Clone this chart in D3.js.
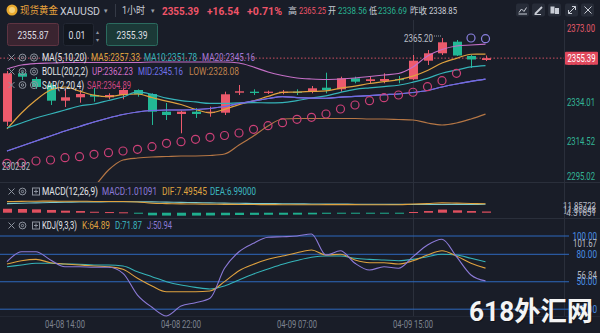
<!DOCTYPE html>
<html><head><meta charset="utf-8">
<script src="https://cdn.jsdelivr.net/npm/d3@7"></script>
<style>
html,body{margin:0;padding:0;background:#191d28;overflow:hidden}
svg{display:block}
text{font-family:Roboto,"Noto Sans","Noto Sans CJK SC",sans-serif}
</style></head><body><svg id="c" width="600" height="333"></svg>
<script>
// ---------- DATA ----------
const times = ["04-08 10:00","04-08 11:00","04-08 12:00","04-08 13:00","04-08 14:00","04-08 15:00","04-08 16:00","04-08 17:00","04-08 18:00","04-08 19:00","04-08 20:00","04-08 21:00","04-08 22:00","04-08 23:00","04-09 00:00","04-09 01:00","04-09 02:00","04-09 03:00","04-09 04:00","04-09 06:00","04-09 07:00","04-09 08:00","04-09 09:00","04-09 10:00","04-09 11:00","04-09 12:00","04-09 13:00","04-09 14:00","04-09 15:00","04-09 16:00","04-09 17:00","04-09 18:00","04-09 19:00","04-09 20:00"];
const open  = [2324.41,2348.00,2345.22,2342.30,2334.65,2336.30,2337.42,2336.30,2337.42,2339.86,2337.91,2329.29,2328.17,2329.29,2328.80,2328.80,2338.55,2339.03,2338.55,2338.40,2339.03,2339.03,2340.98,2340.20,2345.56,2344.25,2344.25,2345.22,2345.08,2354.14,2357.75,2363.40,2356.43,2354.48];
const high  = [2349.12,2348.88,2346.20,2343.27,2340.35,2339.86,2340.84,2338.25,2340.69,2340.20,2338.25,2333.53,2329.77,2331.09,2331.72,2339.03,2342.30,2340.20,2339.52,2339.86,2340.20,2341.81,2348.29,2346.34,2346.34,2346.34,2348.00,2346.68,2356.92,2359.35,2365.20,2364.23,2356.92,2356.67];
const low   = [2322.32,2344.73,2340.35,2332.55,2331.58,2333.67,2334.16,2335.33,2335.33,2336.60,2322.81,2325.24,2318.76,2326.22,2326.85,2327.68,2337.42,2337.42,2337.91,2337.77,2337.42,2338.25,2338.25,2339.03,2343.13,2343.13,2343.13,2343.13,2344.73,2352.04,2356.92,2356.43,2350.58,2353.99];
const close = [2348.00,2346.34,2341.32,2334.65,2336.30,2337.91,2336.60,2337.42,2339.86,2337.77,2329.29,2327.68,2329.29,2328.17,2329.29,2337.77,2339.23,2338.40,2339.03,2339.03,2338.55,2340.69,2339.86,2345.56,2343.91,2345.08,2345.22,2344.73,2354.14,2357.75,2363.11,2356.67,2354.73,2355.39];
const ma5   = [2320.86,2328.65,2334.99,2339.86,2341.32,2339.30,2337.35,2336.58,2337.62,2337.91,2336.19,2334.41,2332.78,2330.44,2328.74,2330.44,2332.75,2334.57,2336.74,2338.69,2338.85,2339.14,2339.43,2340.74,2341.71,2343.02,2343.93,2344.90,2346.62,2349.39,2352.99,2355.28,2357.28,2357.33];
const ma10  = [2321.34,2323.78,2326.22,2328.17,2330.11,2332.06,2333.04,2334.74,2336.45,2338.90,2337.75,2335.88,2334.68,2334.03,2333.33,2333.32,2333.58,2333.68,2333.59,2333.72,2334.64,2335.95,2337.00,2338.74,2340.20,2340.93,2341.53,2342.17,2343.68,2345.55,2348.01,2349.60,2351.09,2351.78];
const ma20  = [2310.13,2312.57,2315.01,2317.44,2319.88,2322.07,2324.27,2326.22,2327.92,2329.14,2329.87,2330.11,2330.11,2330.36,2330.85,2331.82,2333.28,2334.50,2335.72,2336.67,2336.19,2335.91,2335.84,2336.39,2336.77,2337.12,2337.56,2337.92,2338.64,2339.63,2341.33,2342.77,2344.05,2345.16];
const bollMid = [2310.13,2312.57,2315.01,2317.44,2319.88,2322.07,2324.27,2326.22,2327.92,2329.14,2329.87,2330.11,2330.11,2330.36,2330.85,2331.82,2333.28,2334.50,2335.72,2336.67,2336.19,2335.91,2335.84,2336.39,2336.77,2337.12,2337.56,2337.92,2338.64,2339.63,2341.33,2342.77,2344.05,2345.16];
const bollUp  = [2350.10,2352.04,2352.78,2353.02,2353.26,2353.26,2353.26,2353.26,2353.26,2353.26,2353.51,2353.51,2353.51,2353.51,2353.51,2353.51,2353.02,2351.07,2348.63,2346.93,2345.71,2345.22,2344.98,2345.22,2345.71,2346.44,2347.17,2347.90,2351.07,2356.43,2359.60,2361.30,2361.79,2362.23];
const bollLow = [2270.17,2273.10,2277.24,2281.87,2286.50,2290.88,2293.08,2300.88,2305.75,2306.72,2307.21,2307.45,2307.70,2307.70,2307.94,2308.67,2313.06,2317.44,2322.32,2325.73,2325.97,2325.97,2325.97,2325.97,2325.97,2325.73,2325.73,2325.49,2325.24,2323.78,2322.81,2323.78,2325.73,2328.08];
const sar     = [2304.14,2304.30,2305.26,2305.75,2306.87,2307.36,2308.53,2309.31,2310.13,2310.96,2312.23,2313.89,2314.67,2315.84,2316.81,2317.69,2318.91,2320.71,2322.47,2323.93,2325.59,2326.56,2328.17,2330.61,2332.56,2334.65,2336.12,2337.43,2338.75,2341.48,2344.39,2347.99,2365.20,2364.89];
const macdHist = [3.3,3.1,2.8,2.3,1.7,1.4,0.8,0.55,0.35,-0.35,-2.2,-2.4,-2.5,-2.4,-2.3,-2.1,-1.9,-1.8,-1.7,-1.7,-1.6,-1.4,-0.9,-0.8,-0.8,-0.8,-0.7,-0.6,0.6,1.4,2.6,2.0,1.4,1.01];
const dif = [9.25,9.45,9.6,9.65,9.55,9.6,9.4,9.38,9.33,8.97,7.9,7.6,7.35,7.2,7.05,6.95,6.9,6.8,6.75,6.65,6.6,6.6,6.75,6.75,6.7,6.65,6.65,6.65,7.2,7.6,8.2,7.95,7.68,7.495];
const dea = [7.6,7.9,8.2,8.5,8.7,8.9,9.0,9.1,9.15,9.15,9.0,8.8,8.6,8.4,8.2,8.0,7.85,7.7,7.6,7.5,7.4,7.3,7.2,7.15,7.1,7.05,7.0,6.95,6.9,6.9,6.9,6.95,6.98,6.99];
const kdjK = [69.4,73.0,74.5,70.8,69.4,68.3,67.2,66.4,63.6,53.8,45.4,39.1,39.1,39.1,39.9,50.1,62.1,69.1,74.5,78.1,81.7,84.7,79.2,80.0,73.8,70.8,70.8,69.4,73.0,79.2,83.9,78.1,70.2,64.89];
const kdjD = [66.4,68.3,70.2,70.2,69.4,69.1,68.3,68.3,67.2,61.0,55.5,50.1,46.4,43.9,42.1,45.4,51.9,58.5,63.9,69.1,73.2,76.7,78.1,78.1,75.6,74.5,73.8,73.0,74.5,77.4,80.0,79.2,75.6,71.87];
const kdjJ = [71.9,82.8,82.8,73.8,66.4,66.4,65.8,65.8,59.2,35.5,22.1,12.6,23.5,27.1,31.9,64.7,82.8,92.0,98.6,99.2,100.0,102.2,79.2,83.9,70.2,62.8,66.4,64.7,77.4,90.2,96.4,77.4,57.4,50.94];
const priceTicks = [2373.00,2353.51,2334.01,2314.52,2295.02];
const kdjTicks = [100,80,50,20];
const timeTicks = ["04-08 14:00","04-08 22:00","04-09 07:00","04-09 15:00"];
const lastPrice = 2355.39, prevClose = 2338.85, maxHigh = 2365.20, minLow = 2302.82;

// ---------- SETUP ----------
const svg = d3.select('#c');
const BG = '#191d28', RED = '#ec5a6c', GREEN = '#22b895', GRID = '#2a2f3b';
const C = {ma5:'#dfa23f', ma10:'#35b3b8', ma20:'#9b6bd0', up:'#c46fc6', mid:'#6b6de4', low:'#b57645', sar:'#cc4077', sarDn:'#8a80e0', dif:'#dfa23f', dea:'#7cc7ca', k:'#dfa23f', d:'#35b3b8', j:'#8c7ad8'};
svg.append('rect').attr('width',600).attr('height',333).attr('fill',BG);

function T(g, x, y, s, o = {}) {
  const t = g.append('text').attr('x', x).attr('y', y).text(s)
    .attr('font-size', o.size || 10).attr('fill', o.fill || '#c9cdd6')
    .attr('text-anchor', o.anchor || 'start').attr('dominant-baseline', 'central');
  if (o.w) t.attr('textLength', o.w).attr('lengthAdjust', 'spacingAndGlyphs');
  if (o.weight) t.attr('font-weight', o.weight);
  if (o.family) t.attr('font-family', o.family);
  return t;
}

const n = close.length;
const xs = d3.scaleLinear().domain([0, n - 1]).range([7, 485.5]);
const yP = d3.scaleLinear().domain([2295.02, 2373.00]).range([182, 22]);
const yM = d3.scaleLinear().domain([-4.4, 24.75]).range([218, 183]);
const yK = d3.scaleLinear().domain([20, 100]).range([309.2, 236]);

const defs = svg.append('defs');
defs.append('clipPath').attr('id','mainClip').append('rect').attr('x',0).attr('y',20).attr('width',564).attr('height',162);

// separators / grid
const grid = svg.append('g');
grid.append('line').attr('x1',0).attr('x2',600).attr('y1',182.5).attr('y2',182.5).attr('stroke',GRID);
grid.append('line').attr('x1',0).attr('x2',600).attr('y1',218.5).attr('y2',218.5).attr('stroke',GRID);
grid.append('line').attr('x1',0).attr('x2',600).attr('y1',316.5).attr('y2',316.5).attr('stroke','#222733');
grid.append('line').attr('x1',564.5).attr('x2',564.5).attr('y1',20).attr('y2',316).attr('stroke',GRID);
const gi = times.indexOf("04-09 15:00");
grid.append('line').attr('x1',Math.round(xs(gi))+0.5).attr('x2',Math.round(xs(gi))+0.5).attr('y1',20).attr('y2',316).attr('stroke','#2b303c');

// ---------- MAIN PANE ----------
const main = svg.append('g').attr('clip-path','url(#mainClip)');
main.append('line').attr('x1',0).attr('x2',564).attr('y1',yP(lastPrice)).attr('y2',yP(lastPrice))
  .attr('stroke',RED).attr('stroke-dasharray','1.5,2').attr('opacity',0.85);

const cg = main.append('g');
d3.range(n).forEach(i => {
  const up = close[i] >= open[i];
  const col = up ? RED : GREEN;
  const x = xs(i);
  cg.append('line').attr('x1',Math.round(x)+0.5).attr('x2',Math.round(x)+0.5)
    .attr('y1',yP(high[i])).attr('y2',yP(low[i])).attr('stroke',col).attr('stroke-width',1);
  const yt = yP(Math.max(open[i], close[i])), yb = yP(Math.min(open[i], close[i]));
  cg.append('rect').attr('x',Math.round(x)-4).attr('width',9)
    .attr('y',yt).attr('height',Math.max(1.2, yb - yt)).attr('fill',col);
});

const lineP = d3.line().x((d,i)=>xs(i)).y(d=>yP(d)).curve(d3.curveMonotoneX);
[[bollUp,C.up],[bollLow,C.low],[ma5,C.ma5],[ma10,C.ma10],[ma20,C.ma20],[bollMid,C.mid]].forEach(([arr,col])=>{
  main.append('path').attr('d',lineP(arr)).attr('fill','none').attr('stroke',col).attr('stroke-width',1.2);
});

d3.range(n).forEach(i => {
  const above = sar[i] > high[i];
  main.append('circle').attr('cx',xs(i)).attr('cy',yP(sar[i])).attr('r',4)
    .attr('fill','none').attr('stroke', above ? C.sarDn : C.sar).attr('stroke-width',1.2);
});

const iMax = high.indexOf(maxHigh);
T(svg, xs(iMax) - 9, yP(maxHigh) + 0.5, maxHigh.toFixed(2), {anchor:'end', w:29, fill:'#b9bdc7', size:10.5});
svg.append('line').attr('x1',xs(iMax)-8).attr('x2',xs(iMax)-1).attr('y1',yP(maxHigh)-2).attr('y2',yP(maxHigh)-2)
  .attr('stroke','#9aa0aa').attr('stroke-dasharray','1,1');
T(svg, 2, yP(minLow) + 1, minLow.toFixed(2), {w:28, fill:'#b9bdc7', size:10.5});

priceTicks.forEach(v => {
  const y = Math.max(28, Math.min(176, yP(v)));
  T(svg, 567, y, v.toFixed(2), {w:28, fill: v > prevClose ? '#e45a6a' : '#33b596', size:10.5});
});
svg.append('rect').attr('x',565).attr('y',yP(lastPrice)-6.5).attr('width',33).attr('height',13).attr('fill','#e0485c').attr('rx',1);
T(svg, 567.5, yP(lastPrice)+0.5, lastPrice.toFixed(2), {w:28, fill:'#ffffff', size:10.5});

// ---------- LEGENDS ----------
function icons(y, third) {
  const g = svg.append('g').attr('stroke','#8d939e').attr('fill','none').attr('stroke-width',1);
  g.append('path').attr('d',`M8.5,${y-3}L14.5,${y+3}M14.5,${y-3}L8.5,${y+3}`);
  g.append('circle').attr('cx',22.5).attr('cy',y).attr('r',3.4);
  g.append('circle').attr('cx',22.5).attr('cy',y).attr('r',1.2);
  if (third === 'gear') {
    g.append('circle').attr('cx',34).attr('cy',y).attr('r',3.6);
    g.append('circle').attr('cx',34).attr('cy',y).attr('r',1.5);
  } else {
    g.append('rect').attr('x',32.5).attr('y',y-3.5).attr('width',7).attr('height',7);
    g.append('path').attr('d',`M36,${y-2}V${y+2}M34,${y}H38`);
  }
}
const LG = svg.append('g');
const LS = 10.5;
icons(57.5,'gear');
T(LG,42,57.5,'MA(5,10,20)',{w:45,fill:'#e4e6ea',size:LS});
T(LG,91,57.5,'MA5:2357.33',{w:49,fill:C.ma5,size:LS});
T(LG,144,57.5,'MA10:2351.78',{w:53,fill:C.ma10,size:LS});
T(LG,202,57.5,'MA20:2345.16',{w:53,fill:'#a57ad6',size:LS});
icons(71.5,'gear');
T(LG,42,71.5,'BOLL(20,2,2)',{w:46,fill:'#e4e6ea',size:LS});
T(LG,92,71.5,'UP:2362.23',{w:41,fill:'#cf6fc8',size:LS});
T(LG,138,71.5,'MID:2345.16',{w:45,fill:'#6f72e8',size:LS});
T(LG,189,71.5,'LOW:2328.08',{w:50,fill:'#c0824c',size:LS});
icons(85,'gear');
T(LG,42,85,'SAR(2,20,4)',{w:42,fill:'#e4e6ea',size:LS});
T(LG,87,85,'SAR:2364.89',{w:44,fill:'#d04682',size:LS});

// ---------- MACD ----------
const mg = svg.append('g');
d3.range(n).forEach(i => {
  const v = macdHist[i];
  const y0 = yM(Math.max(0, v)), y1 = yM(Math.min(0, v));
  mg.append('rect').attr('x',Math.round(xs(i))-4).attr('width',9).attr('y',y0)
    .attr('height',Math.max(1, y1 - y0)).attr('fill', v >= 0 ? '#e0505f' : '#1fae8e');
});
const lineM = d3.line().x((d,i)=>xs(i)).y(d=>yM(d)).curve(d3.curveMonotoneX);
mg.append('path').attr('d',lineM(dea)).attr('fill','none').attr('stroke',C.dea).attr('stroke-width',1.1);
mg.append('path').attr('d',lineM(dif)).attr('fill','none').attr('stroke',C.dif).attr('stroke-width',1.1);
icons(191.5,'plus');
T(svg,42,191.5,'MACD(12,26,9)',{w:56,fill:'#e4e6ea',size:LS});
T(svg,102,191.5,'MACD:1.01091',{w:55,fill:'#8c7ad8',size:LS});
T(svg,162,191.5,'DIF:7.49545',{w:45,fill:C.dif,size:LS});
T(svg,210,191.5,'DEA:6.99000',{w:46,fill:'#3cb8c0',size:LS});
T(svg,563,205.5,'11.85722',{w:33,fill:'#b5b9c3',size:9.5});
T(svg,563,209,'11.85848',{w:33,fill:'#b5b9c3',size:9.5});
T(svg,564,212.5,'-4.31651',{w:32,fill:'#b5b9c3',size:9.5});

// ---------- KDJ ----------
const kg = svg.append('g');
kdjTicks.forEach(v => {
  kg.append('line').attr('x1',0).attr('x2',569).attr('y1',yK(v)).attr('y2',yK(v)).attr('stroke','#2d68bd').attr('stroke-width',1);
});
const lineK = d3.line().x((d,i)=>xs(i)).y(d=>yK(d)).curve(d3.curveMonotoneX);
kg.append('path').attr('d',lineK(kdjD)).attr('fill','none').attr('stroke',C.d).attr('stroke-width',1.1);
kg.append('path').attr('d',lineK(kdjK)).attr('fill','none').attr('stroke',C.k).attr('stroke-width',1.1);
kg.append('path').attr('d',lineK(kdjJ)).attr('fill','none').attr('stroke',C.j).attr('stroke-width',1.1);
icons(225.5,'plus');
T(svg,42,225.5,'KDJ(9,3,3)',{w:35,fill:'#e4e6ea',size:LS});
T(svg,82,225.5,'K:64.89',{w:28,fill:C.k,size:LS});
T(svg,115,225.5,'D:71.87',{w:27,fill:'#3cb8c0',size:LS});
T(svg,147,225.5,'J:50.94',{w:25,fill:C.j,size:LS});
kdjTicks.forEach(v => {
  const s = v.toFixed(2);
  T(svg, 597, yK(v), s, {anchor:'end', w: s.length*4.1, fill:'#4a8fe4', size:10.5});
});
T(svg,597,243,'101.67',{anchor:'end',w:24,fill:'#b5b9c3',size:10.5});
T(svg,597,275.5,'56.84',{anchor:'end',w:20,fill:'#b5b9c3',size:10.5});

// ---------- TIME AXIS ----------
timeTicks.forEach(t => {
  const i = times.indexOf(t);
  T(svg, xs(i), 324, t, {anchor:'middle', w:40, fill:'#7d8390', size:10});
});

// ---------- HEADER ----------
const H = svg.append('g');
H.append('circle').attr('cx',12).attr('cy',10).attr('r',5.5).attr('fill','#e9a92e');
H.append('circle').attr('cx',12).attr('cy',10).attr('r',3).attr('fill','#f7d27a');
T(H,20,10.5,'现货黄金',{w:38,fill:'#e8a23c',size:10.5,family:'"Noto Sans CJK SC"'});
T(H,60,10.5,'XAUUSD',{w:40,fill:'#c9cdd6',size:11.5});
T(H,106,10.5,'▾',{fill:'#9aa0aa',size:7,anchor:'middle'});
H.append('line').attr('x1',115.5).attr('x2',115.5).attr('y1',4).attr('y2',17).attr('stroke','#353a46');
T(H,122,10.5,'1小时',{w:23,fill:'#c9cdd6',size:10.5,family:'"Noto Sans CJK SC"'});
T(H,153,10.5,'▾',{fill:'#9aa0aa',size:7,anchor:'middle'});
T(H,162,10.5,'2355.39',{w:37,fill:'#ef5468',size:11.5,weight:700});
T(H,207,10.5,'+16.54',{w:32,fill:'#ef5468',size:11.5,weight:700});
T(H,247,10.5,'+0.71%',{w:35,fill:'#ef5468',size:11.5,weight:700});
T(H,288,10.5,'高',{w:9,fill:'#c9cdd6',size:9,family:'"Noto Sans CJK SC"'});
T(H,299,10.5,'2365.25',{w:27,fill:'#ef5468',size:9.5});
T(H,328,10.5,'开',{w:8,fill:'#c9cdd6',size:9,family:'"Noto Sans CJK SC"'});
T(H,338,10.5,'2338.56',{w:29,fill:'#28b391',size:9.5});
T(H,369,10.5,'低',{w:8,fill:'#c9cdd6',size:9,family:'"Noto Sans CJK SC"'});
T(H,378,10.5,'2336.69',{w:29,fill:'#28b391',size:9.5});
T(H,410,10.5,'昨收',{w:17,fill:'#c9cdd6',size:9,family:'"Noto Sans CJK SC"'});
T(H,429,10.5,'2338.85',{w:28,fill:'#c9cdd6',size:9.5});
const ix = [516,532,548,565,581];
ix.forEach(x => H.append('rect').attr('x',x).attr('y',3.5).attr('width',13).attr('height',13).attr('rx',2).attr('fill','#272c38'));
const ig = H.append('g').attr('stroke','#c9cdd6').attr('fill','none').attr('stroke-width',1);
ig.append('path').attr('d','M519,12.5L521.5,9L524,11.5L526.5,7.5M518.5,14H527');
ig.append('path').attr('d','M535,14L542,7').attr('stroke-width',1.8);
ig.append('path').attr('d','M534.5,14.5H541');
ig.append('rect').attr('x',551).attr('y',7).attr('width',3).attr('height',6).attr('fill','#c9cdd6');
ig.append('rect').attr('x',555.5).attr('y',8.5).attr('width',3).attr('height',5).attr('fill','#c9cdd6');
ig.append('path').attr('d','M568.5,13.5L575.5,6.5M572,6.5H575.5V10M568.5,10V13.5H572');
ig.append('path').attr('d','M584.5,6.5L591.5,13.5M591.5,6.5L584.5,13.5');

// ---------- INPUT BOXES ----------
const B = svg.append('g');
B.append('rect').attr('x',7.5).attr('y',23.5).attr('width',51).attr('height',22).attr('rx',2).attr('fill','#3a2430').attr('stroke','#5e3442');
T(B,33,35,'2355.87',{anchor:'middle',w:31,fill:'#dcdde2',size:11});
B.append('rect').attr('x',63.5).attr('y',23.5).attr('width',30).attr('height',22).attr('rx',2).attr('fill','#12161e').attr('stroke','#222733');
T(B,77,35,'0.01',{anchor:'middle',w:17,fill:'#dcdde2',size:11});
T(B,97,31,'▴',{anchor:'middle',fill:'#8d939e',size:6});
T(B,97,39,'▾',{anchor:'middle',fill:'#8d939e',size:6});
B.append('rect').attr('x',106.5).attr('y',23.5).attr('width',51).attr('height',22).attr('rx',2).attr('fill','#1b3937').attr('stroke','#2b6b5f');
T(B,132,35,'2355.39',{anchor:'middle',w:31,fill:'#dcdde2',size:11});

// ---------- WATERMARK ----------
T(svg,469,311.5,'618外汇网',{w:124,fill:'#000',size:27,weight:700,family:'"Noto Sans CJK SC"'}).attr('opacity',0.35).attr('transform','translate(1,1)');
T(svg,469,311.5,'618外汇网',{w:124,fill:'#f4f4f4',size:27,weight:700,family:'"Noto Sans CJK SC"'});
</script></body></html>
